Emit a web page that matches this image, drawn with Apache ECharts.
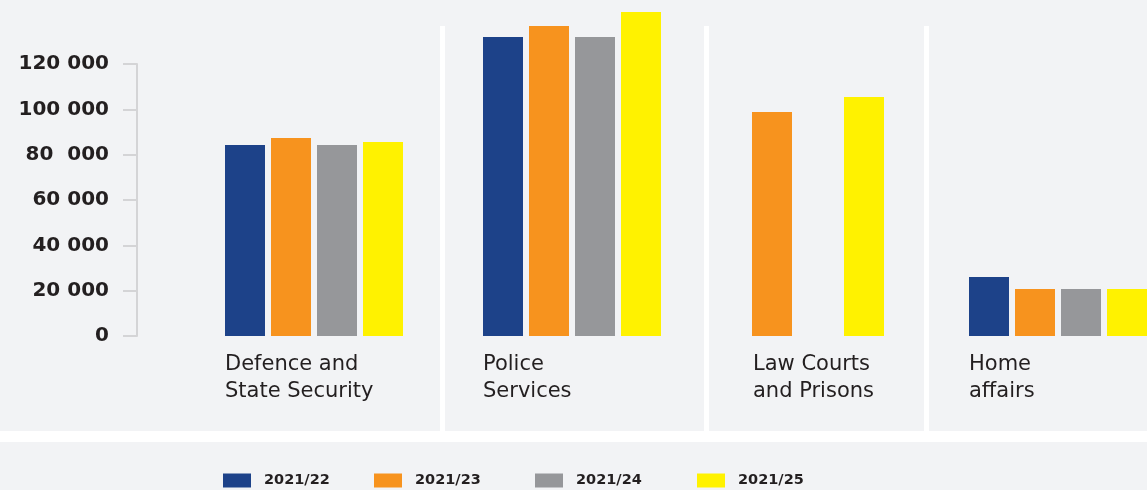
<!DOCTYPE html>
<html>
<head>
<meta charset="utf-8">
<script src="https://cdn.jsdelivr.net/npm/echarts@6/dist/echarts.min.js"></script>
<style>
html,body{margin:0;padding:0;background:#f2f3f5;}
#chart{width:1147px;height:490px;}
</style>
</head>
<body>
<div id="chart"></div>
<script>
const categories = ['Defence and\nState Security', 'Police\nServices', 'Law Courts\nand Prisons', 'Home\naffairs'];
const years = ['2021/22', '2021/23', '2021/24', '2021/25'];
const v2021_22 = [84300, 131900, null, 26000];
const v2021_23 = [87400, 136800, 98800, 20700];
const v2021_24 = [84300, 131900, null, 20700];
const v2021_25 = [85600, 142900, 105400, 20700];
const yTickLabels = ['0', '20 000', '40 000', '60 000', '80  000', '100 000', '120 000'];

const seriesValues = [v2021_22, v2021_23, v2021_24, v2021_25];
const colors = ['#1d4289', '#f7931e', '#96979a', '#fff200'];
const groupLeft = [225, 483, 706, 969];
const labelIndent = [0, 0, 47, 0];
const legendLeft = [223, 374, 535, 697];
const FONT = 'DejaVu Sans';
const TEXT = '#231f20';
const GW = 178;

const grids = categories.map((c, i) => ({ left: groupLeft[i], width: GW, top: 64, height: 272, outerBoundsMode: 'none', containLabel: false }));
const xAxes = categories.map((c, i) => {
  const ind = labelIndent[i];
  const base = { fontSize: 21, lineHeight: 27, fontFamily: FONT, color: TEXT, align: 'left' };
  return {
    type: 'category', gridIndex: i, data: [c],
    axisLine: { show: false }, axisTick: { show: false },
    axisLabel: {
      margin: 15,
      formatter: v => v.split('\n').map(l => (ind ? '{sp| }' : '') + '{a|' + l + '}').join('\n'),
      rich: {
        sp: Object.assign({}, base, { width: ind }),
        a: Object.assign({}, base, { width: GW - ind })
      }
    }
  };
});
const yAxes = categories.map((c, i) => ({
  type: 'value', gridIndex: i, min: 0, max: 120000, interval: 20000,
  show: i === 0, offset: 88,
  splitLine: { show: false },
  axisLine: { show: true, lineStyle: { color: '#d4d4d6', width: 2 } },
  axisTick: { show: true, length: 14, lineStyle: { color: '#d4d4d6', width: 2 } },
  axisLabel: {
    margin: 28, fontFamily: FONT, fontWeight: 'bold', fontSize: 20, color: TEXT,
    formatter: (v) => yTickLabels[Math.round(v / 20000)]
  }
}));
const series = [];
categories.forEach((c, i) => {
  years.forEach((y, k) => {
    series.push({
      type: 'bar', name: y, xAxisIndex: i, yAxisIndex: i,
      data: [seriesValues[k][i]],
      barWidth: 40, barGap: '15%', clip: false,
      itemStyle: { color: colors[k] },
      emphasis: { disabled: true }, animation: false
    });
  });
});
const legends = years.map((y, k) => ({
  data: [y], left: legendLeft[k], top: 473, padding: 0, itemWidth: 28, itemHeight: 14,
  icon: 'rect', selectedMode: false,
  textStyle: { fontFamily: FONT, fontWeight: 'bold', fontSize: 14.5, color: TEXT, padding: [0, 0, 0, 8] }
}));

const chart = echarts.init(document.getElementById('chart'));
chart.setOption({
  backgroundColor: '#f2f3f5',
  animation: false,
  grid: grids, xAxis: xAxes, yAxis: yAxes, series: series, legend: legends,
  graphic: [
    { type: 'rect', shape: { x: 440, y: 26, width: 5, height: 406 }, style: { fill: '#ffffff' }, z: -1 },
    { type: 'rect', shape: { x: 704, y: 26, width: 5, height: 406 }, style: { fill: '#ffffff' }, z: -1 },
    { type: 'rect', shape: { x: 924, y: 26, width: 5, height: 406 }, style: { fill: '#ffffff' }, z: -1 },
    { type: 'rect', shape: { x: 0, y: 431, width: 1147, height: 11 }, style: { fill: '#ffffff' }, z: -1 }
  ]
});
</script>
</body>
</html>
